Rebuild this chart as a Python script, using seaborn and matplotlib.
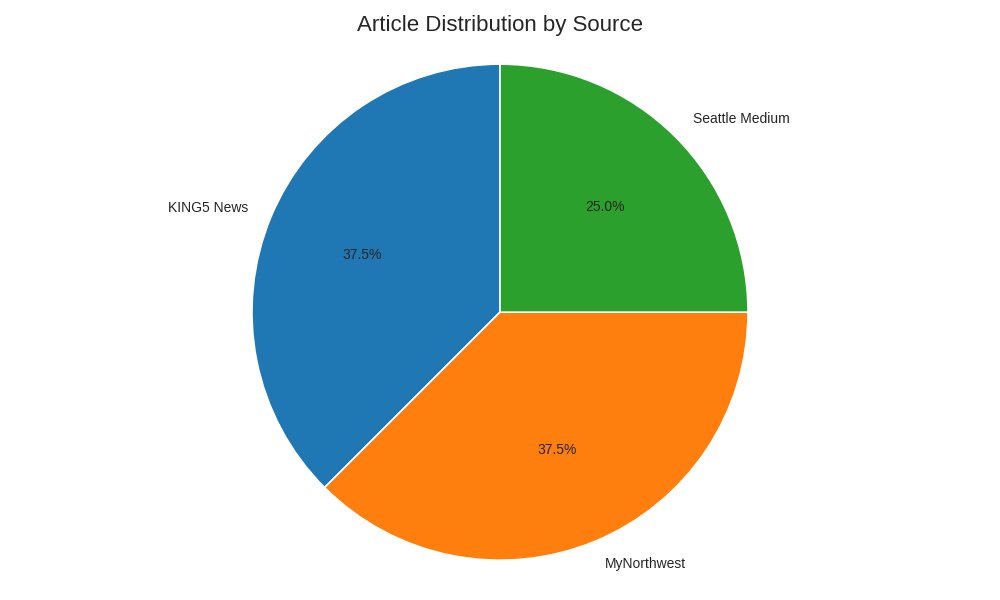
import matplotlib
matplotlib.use("Agg")
import matplotlib.pyplot as plt
import seaborn as sns

sources = ["KING5 News", "MyNorthwest", "Seattle Medium"]
article_counts = [3, 3, 2]

sns.set_style("white")
plt.rcParams["font.family"] = ["Liberation Sans", "DejaVu Sans"]
colors = sns.color_palette("tab10", 3)

fig, ax = plt.subplots(figsize=(10, 6), dpi=100)
ax.pie(article_counts, labels=sources, colors=colors, autopct="%1.1f%%",
       startangle=90, wedgeprops={"edgecolor": "white", "linewidth": 1.2},
       textprops={"fontsize": 10})
ax.axis("equal")
ax.set_title("Article Distribution by Source", fontsize=16)
fig.tight_layout()
fig.savefig("out.png", dpi=100)
